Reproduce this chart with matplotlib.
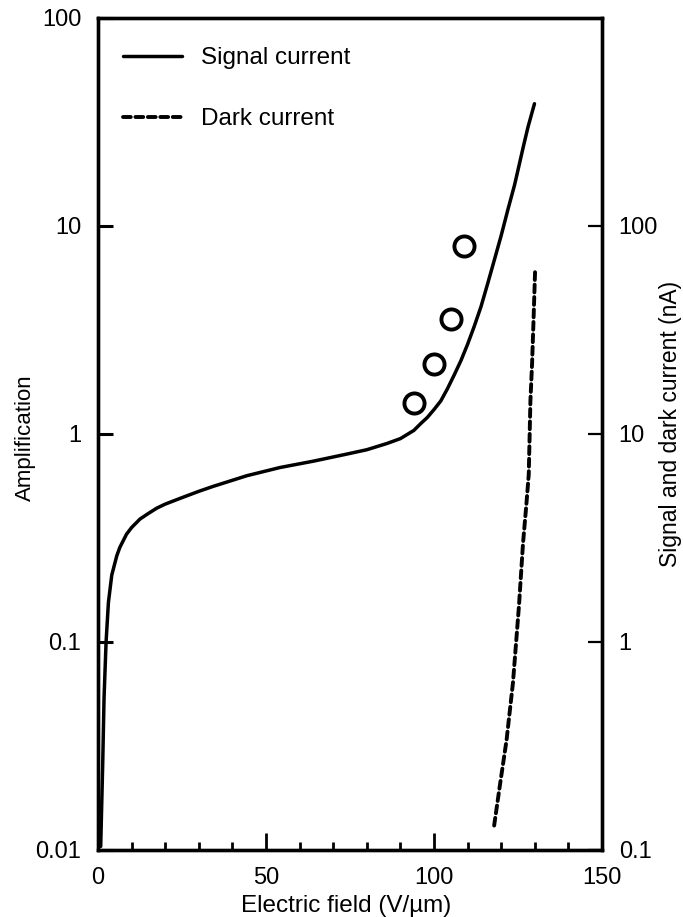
import numpy as np
import matplotlib
matplotlib.use("Agg")
import matplotlib.pyplot as plt
from matplotlib.ticker import MultipleLocator, NullLocator

plt.rcParams["font.family"] = ["Liberation Sans", "DejaVu Sans"]

# signal current curve (left axis, amplification)
signal_field = [0.8, 1.4, 1.8, 2.4, 3.1, 4.1, 5.6, 6.5, 8.5, 10.0, 12.5, 15.0,
                17.5, 20.0, 24.4, 30.0, 34.3, 44.3, 54.2, 64.1, 74.0, 80.0,
                86.0, 90.0, 94.0, 96.0, 98.0, 100.0, 102.0, 104.0, 106.0, 108.0,
                110.0, 112.0, 114.0, 116.0, 118.0, 120.0, 122.0, 124.0, 126.7,
                128.0, 129.9]
signal_amp = [0.0104, 0.026, 0.054, 0.1, 0.155, 0.21, 0.26, 0.285, 0.33, 0.355,
              0.39, 0.415, 0.44, 0.46, 0.49, 0.53, 0.56, 0.63, 0.69, 0.74, 0.80,
              0.84, 0.90, 0.95, 1.04, 1.12, 1.2, 1.31, 1.44, 1.65, 1.92, 2.25,
              2.7, 3.3, 4.1, 5.3, 6.9, 9.0, 12.0, 15.8, 24.5, 30.0, 38.7]

# measured points (open circles)
meas_field = [94.0, 100.0, 105.0, 109.0]
meas_amp = [1.41, 2.17, 3.57, 8.0]

# dark current (right axis, nA)
dark_field = [117.9, 119.6, 121.6, 123.5, 125.3, 126.5, 127.5, 128.2, 128.7,
              129.2, 129.6, 130.1]
dark_na = [0.131, 0.204, 0.338, 0.637, 1.50, 2.99, 4.6, 6.40, 14.5, 22.0,
           34.4, 61.8]

amp_ticks = [0.01, 0.1, 1, 10, 100]
amp_labels = ["0.01", "0.1", "1", "10", "100"]
cur_ticks = [0.1, 1, 10, 100]
cur_labels = ["0.1", "1", "10", "100"]
field_ticks = [0, 50, 100, 150]

fig = plt.figure(figsize=(6.83, 9.17), dpi=100)
ax = fig.add_axes([0.1435, 0.0731, 0.7379, 0.9073])

sig_line, = ax.plot(signal_field, signal_amp, color="black", lw=2.5,
                    solid_capstyle="round", solid_joinstyle="round",
                    label="Signal current")
ax.plot(meas_field, meas_amp, "o", mfc="none", mec="black", ms=14.5, mew=2.8)

ax.set_yscale("log")
ax.set_xlim(0, 150)
ax.set_ylim(0.01, 100)

ax2 = ax.twinx()
dark_line, = ax2.plot(dark_field, dark_na, color="black", lw=2.8,
                      dashes=(2.0, 1.2), dash_capstyle="round",
                      label="Dark current")
ax2.set_yscale("log")
ax2.set_ylim(0.1, 1000)

ax.set_xticks(field_ticks, labels=[str(v) for v in field_ticks])
ax.xaxis.set_minor_locator(MultipleLocator(10))
ax.set_yticks(amp_ticks, labels=amp_labels)
ax.yaxis.set_minor_locator(NullLocator())
ax2.set_yticks(cur_ticks, labels=cur_labels)
ax2.yaxis.set_minor_locator(NullLocator())

ax.tick_params(axis="x", which="major", direction="in", length=12, width=2.0,
               pad=12, labelsize=17, top=False)
ax.tick_params(axis="x", which="minor", direction="in", length=6, width=2.0, top=False)
ax.tick_params(axis="y", which="major", direction="in", length=11, width=2.2,
               pad=12, labelsize=17, right=False)
ax2.tick_params(axis="y", which="major", direction="in", length=10, width=1.6,
                pad=12, labelsize=17)

for a in (ax, ax2):
    for s in a.spines.values():
        s.set_linewidth(2.4)

ax.set_xlabel("Electric field (V/µm)", fontsize=17.5)
ax.xaxis.set_label_coords(0.492, -0.054)
ax.set_ylabel("Amplification", fontsize=16)
ax.yaxis.set_label_coords(-0.123, 0.495)
ax2.set_ylabel("Signal and dark current (nA)", fontsize=16.5)
ax2.yaxis.set_label_coords(1.113, 0.512)

ax2.legend(handles=[sig_line, dark_line], loc="upper left",
           bbox_to_anchor=(0.05, 0.965), frameon=False, borderpad=0,
           borderaxespad=0, handlelength=2.4, handletextpad=0.8,
           labelspacing=1.6, fontsize=17.5)

fig.savefig("out.png", dpi=100)
